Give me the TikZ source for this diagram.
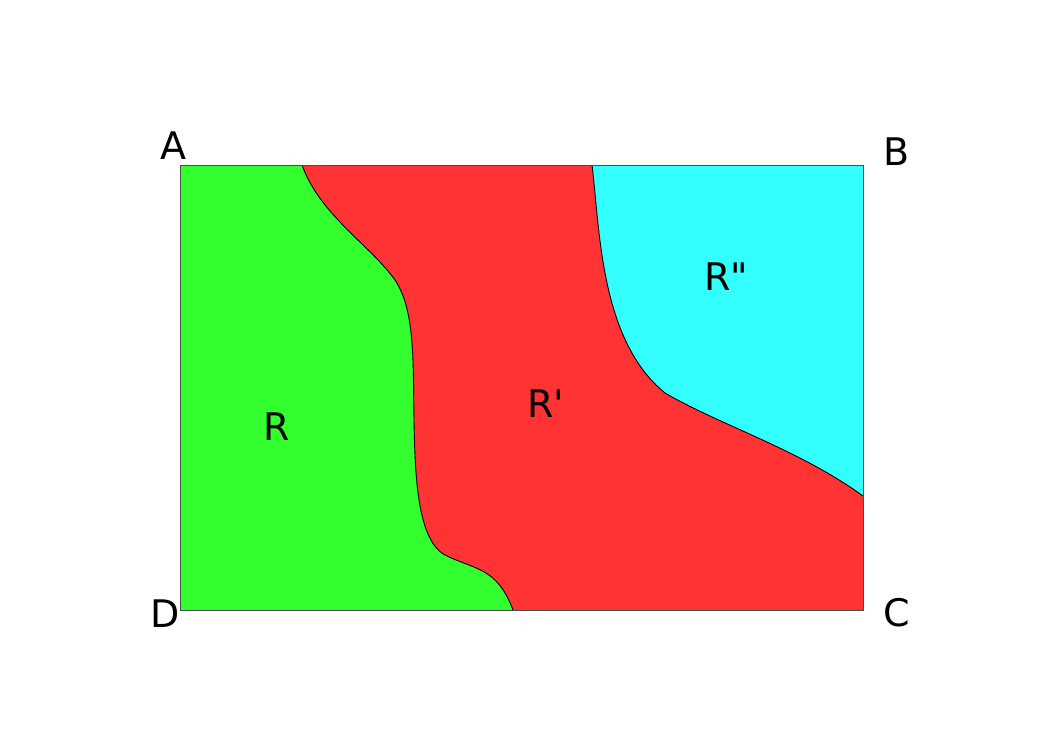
\documentclass[tikz,border=0pt]{standalone}
\usepackage{fontspec}
\newfontfamily\labelfont{DejaVu Sans}
\usetikzlibrary{positioning}
\definecolor{regionR}{RGB}{51,255,46}
\definecolor{regionRa}{RGB}{255,51,51}
\definecolor{regionRb}{RGB}{51,255,255}

\begin{document}
\begin{tikzpicture}[
  x=1pt, y=-1pt,
  font=\labelfont\fontsize{38}{44}\selectfont,
  cornerlabel/.style={inner sep=0pt},
  regionlabel/.style={inner sep=0pt},
  border/.style={draw=black!70, line width=0.8pt},
  cutline/.style={draw=black, line width=0.9pt}
]
\useasboundingbox (0,0) rectangle (1053,745);

% corners
\coordinate (A) at (180,165);
\coordinate (B) at (863,165);
\coordinate (C) at (863,610);
\coordinate (D) at (180,610);

% ends of the two cuts
\coordinate (topL) at (302,165);
\coordinate (botL) at (513,610);
\coordinate (topR) at (592,165);
\coordinate (sideR) at (863,496);

% regions
\fill[regionRa] (A) rectangle (C);
\fill[regionR]
  (D) -- (A) -- (topL)
  .. controls (320,215) and (370,245) .. (395,280)
  .. controls (415,310) and (413,360) .. (414,420)
  .. controls (415,480) and (418,540) .. (445,555)
  .. controls (475,570) and (497,567) .. (botL) -- cycle;
\fill[regionRb]
  (topR) -- (B) -- (sideR)
  .. controls (800,450) and (720,425) .. (665,393)
  .. controls (600,340) and (600,230) .. (topR) -- cycle;

% cuts
\draw[cutline] (topL)
  .. controls (320,215) and (370,245) .. (395,280)
  .. controls (415,310) and (413,360) .. (414,420)
  .. controls (415,480) and (418,540) .. (445,555)
  .. controls (475,570) and (497,567) .. (botL);
\draw[cutline] (topR)
  .. controls (600,230) and (600,340) .. (665,393)
  .. controls (720,425) and (800,450) .. (sideR);

\draw[border] (A) rectangle (C);

% labels
\node[cornerlabel] (labA) at (173,146) {A};
\node[cornerlabel] (labB) at (897,152) {B};
\node[cornerlabel] (labC) at (897,613) {C};
\node[cornerlabel] (labD) at (165,614) {D};
\node[regionlabel] (labR) at (277,427) {R};
\node[regionlabel] (labR1) at (546,404) {R'};
\node[regionlabel] (labR2) at (726,277) {R"};
\end{tikzpicture}
\end{document}
